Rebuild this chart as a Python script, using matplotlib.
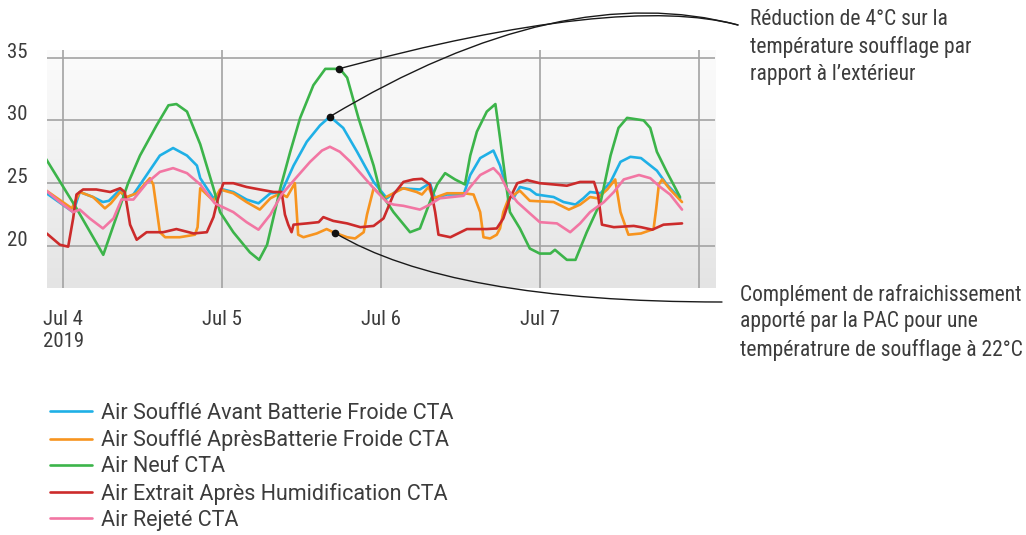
import numpy as np
import matplotlib
matplotlib.use('Agg')
from matplotlib import pyplot as plt
from matplotlib.colors import LinearSegmentedColormap
import matplotlib.dates as mdates

plt.rcParams['font.family'] = ['Roboto Condensed', 'Archivo Narrow', 'Liberation Sans Narrow', 'DejaVu Sans']

# hours counted from 2019-07-04 00:00, values in degC
START = np.datetime64('2019-07-04T00:00')

neuf_h = [-2.8, 2.0, 6.05, 9.8, 11.6, 14.1, 15.9, 17.1, 18.7, 20.7, 22.7, 23.7, 25.7, 28.2, 29.6,
          30.8, 32.8, 34.3, 35.8, 37.8, 39.6, 41.8, 42.9, 44.6, 46.9, 47.9, 49.9, 52.4, 53.9, 55.4,
          56.5, 57.7, 59.2, 60.7, 61.5, 62.5, 64.0, 65.3, 66.0, 67.0, 67.5, 69.0, 70.5, 72.0, 73.6,
          74.3, 76.1, 77.4, 79.1, 81.2, 82.7, 83.9, 85.2, 87.7, 88.7, 89.7, 91.2, 93.2]
neuf_v = [27.1, 23.0, 19.3, 25.0, 27.2, 29.6, 31.2, 31.3, 30.7, 28.1, 24.6, 22.7, 21.1, 19.5, 18.9,
          20.1, 24.6, 27.5, 30.2, 32.8, 34.1, 34.1, 33.4, 30.2, 26.4, 24.3, 22.7, 21.1, 21.4, 23.5,
          24.9, 25.8, 25.3, 24.9, 27.2, 29.1, 30.7, 31.3, 28.6, 24.6, 22.7, 21.4, 19.8, 19.4, 19.4,
          19.7, 18.9, 18.9, 21.1, 23.5, 27.2, 29.4, 30.2, 30.0, 29.4, 27.5, 25.9, 23.9]

avant_h = [-2.8, 1.5, 2.5, 4.5, 6.0, 6.9, 8.6, 9.3, 10.6, 12.6, 14.6, 16.6, 18.7, 20.2, 20.7, 22.7,
           24.2, 25.7, 27.7, 29.5, 31.3, 33.0, 34.8, 36.8, 38.8, 40.3, 42.3, 44.4, 46.9, 48.9, 50.9,
           53.9, 55.4, 56.2, 58.0, 60.5, 61.5, 63.0, 65.0, 66.0, 67.0, 68.0, 69.0, 70.5, 71.5, 74.1,
           75.6, 77.4, 78.6, 79.6, 81.2, 82.7, 84.2, 85.7, 87.3, 89.7, 91.2, 93.2]
avant_v = [24.3, 22.7, 24.3, 23.9, 23.5, 23.6, 24.5, 23.8, 24.1, 25.65, 27.2, 27.8, 27.2, 26.4, 25.4, 23.8,
           24.5, 24.3, 23.7, 23.4, 24.2, 24.3, 26.4, 28.3, 29.6, 30.3, 29.4, 27.5, 25.1, 23.8, 24.6,
           24.5, 25.0, 23.8, 24.1, 24.1, 25.65, 27.0, 27.6, 26.4, 24.6, 23.8, 24.7, 24.5, 24.1, 23.9,
           23.5, 23.3, 23.8, 24.3, 24.2, 25.1, 26.7, 27.1, 27.0, 26.0, 24.9, 23.8]

apres_h = [-2.8, 1.3, 2.5, 4.5, 6.3, 7.2, 8.6, 9.6, 11.1, 13.1, 13.6, 14.6, 15.4, 17.6, 19.9, 20.3,
           20.7, 22.7, 23.7, 25.7, 27.7, 29.7, 31.3, 32.8, 33.8, 35.0, 35.5, 36.3, 38.3, 39.8, 40.8,
           42.9, 44.1, 45.4, 45.9, 46.9, 48.4, 49.9, 51.4, 53.4, 54.2, 55.2, 55.9, 58.0, 60.5, 62.0,
           63.0, 63.5, 64.5, 65.5, 66.0, 66.5, 67.3, 69.0, 70.5, 74.1, 76.4, 78.1, 79.6, 80.7, 82.2,
           83.4, 84.2, 85.4, 87.3, 89.2, 89.6, 90.0, 90.5, 91.7, 93.5]
apres_v = [24.5, 23.0, 24.3, 23.9, 23.0, 23.4, 24.3, 23.9, 24.2, 25.4, 24.9, 21.1, 20.7, 20.7, 20.9, 21.5,
           24.6, 23.6, 24.5, 24.2, 23.5, 22.9, 23.8, 24.2, 23.9, 25.0, 20.9, 20.7, 21.0, 21.35, 21.1,
           20.7, 20.6, 21.1, 22.5, 24.6, 23.8, 24.2, 24.6, 24.3, 24.1, 24.7, 23.8, 24.2, 24.2, 24.1,
           22.7, 20.7, 20.6, 20.9, 21.4, 22.7, 23.8, 24.4, 23.6, 23.5, 22.9, 23.3, 23.9, 23.8, 24.5,
           25.3, 22.7, 20.9, 21.0, 21.35, 23.0, 24.9, 25.3, 24.5, 23.5]

extrait_h = [-2.5, -0.5, 0.75, 1.5, 2.0, 3.0, 5.0, 7.1, 8.6, 9.3, 10.1, 11.1, 12.6, 15.1, 17.1, 19.7,
             21.7, 22.7, 23.4, 24.2, 25.7, 27.7, 29.7, 31.8, 33.0, 33.5, 34.0, 34.5, 34.8, 36.8, 38.6,
             39.3, 40.8, 42.9, 44.9, 46.9, 48.4, 49.9, 51.4, 52.9, 54.2, 55.4, 56.2, 56.7, 58.5, 61.0,
             64.0, 65.5, 66.5, 67.5, 68.6, 70.1, 72.0, 74.1, 76.1, 78.1, 80.2, 80.8, 81.4, 83.2, 86.2,
             87.3, 89.0, 90.7, 93.5]
extrait_v = [21.0, 20.1, 19.95, 22.2, 24.1, 24.5, 24.5, 24.3, 24.6, 24.3, 21.7, 20.5, 21.1, 21.1, 21.35, 21.0,
             21.1, 22.3, 23.8, 25.0, 25.0, 24.7, 24.5, 24.3, 24.3, 22.5, 21.7, 21.1, 21.7, 21.8, 21.9,
             22.3, 22.0, 21.8, 21.5, 21.6, 22.2, 24.1, 25.1, 25.3, 25.35, 24.9, 22.7, 20.9, 20.7, 21.35,
             21.35, 21.4, 22.2, 23.8, 25.0, 25.25, 25.0, 24.9, 24.8, 25.1, 25.1, 24.1, 21.7, 21.5, 21.6,
             21.5, 21.3, 21.7, 21.8]

rejete_h = [-2.8, -0.5, 1.5, 2.5, 4.0, 6.0, 7.6, 8.8, 10.6, 12.6, 14.6, 16.6, 18.7, 20.7, 22.9, 25.7,
            27.7, 29.5, 31.3, 33.0, 35.3, 37.3, 39.1, 40.3, 41.8, 43.4, 44.9, 46.9, 48.9, 49.9, 51.4,
            53.9, 55.4, 56.9, 60.5, 61.5, 63.0, 65.0, 66.0, 67.0, 68.6, 70.5, 72.0, 74.6, 76.6, 78.1,
            79.6, 81.7, 83.2, 84.7, 87.0, 88.7, 90.2, 91.7, 93.5]
rejete_v = [24.5, 23.5, 22.7, 22.9, 22.2, 21.4, 22.2, 23.7, 23.7, 25.0, 25.9, 26.2, 25.8, 24.9, 23.4, 22.7,
            21.9, 21.3, 22.5, 24.1, 25.5, 26.7, 27.6, 27.9, 27.5, 26.7, 25.8, 24.6, 23.5, 23.3, 23.2,
            22.9, 23.3, 23.8, 24.0, 24.7, 25.65, 26.2, 25.65, 24.6, 23.5, 22.6, 21.9, 21.8, 21.1, 21.8,
            22.7, 23.5, 24.3, 25.3, 25.65, 25.4, 24.7, 24.1, 22.9]

labels = ['Air Soufflé Avant Batterie Froide CTA', 'Air Soufflé AprèsBatterie Froide CTA',
          'Air Neuf CTA', 'Air Extrait Après Humidification CTA', 'Air Rejeté CTA']
colors = ['#1fb0e6', '#f7941f', '#3cb44a', '#cc2b2b', '#f276a3']
series = [(avant_h, avant_v), (apres_h, apres_v), (neuf_h, neuf_v),
          (extrait_h, extrait_v), (rejete_h, rejete_v)]

day_ticks = ['Jul 4\n2019', 'Jul 5', 'Jul 6', 'Jul 7', '']
y_ticks = [20, 25, 30, 35]

# annotation targets (hour of the point on each line)
note_top = 'Réduction de 4°C sur la\ntempérature soufflage par\nrapport à l’extérieur'
note_bottom = 'Complément de rafraichissement\napporté par la PAC pour une\ntempératrure de soufflage à 22°C'
mark_neuf_h = 41.6
mark_avant_h = 40.3
mark_apres_h = 41.0


def to_time(hours):
    return START + (np.asarray(hours) * 60).round().astype('timedelta64[m]')


fig = plt.figure(figsize=(10.26, 5.35), dpi=100)
ax = fig.add_axes([0.0455, 0.4617, 0.6515, 0.4448])

# soft grey gradient behind the plot
grad = LinearSegmentedColormap.from_list('bg', ['#fcfcfc', '#e4e4e4'])
ax.imshow(np.linspace(0, 1, 256).reshape(-1, 1), cmap=grad, aspect='auto',
          extent=[0, 1, 0, 1], transform=ax.transAxes, zorder=0)

for (h, v), lab, col in zip(series, labels, colors):
    ax.plot(to_time(h), v, color=col, lw=1.9, label=lab, zorder=3,
            solid_joinstyle='round', solid_capstyle='round')

ax.set_xlim(to_time(-2.5), to_time(98.5))
ax.set_ylim(16.66, 35.6)
ax.set_xticks(to_time(np.arange(5) * 24), day_ticks)
ax.set_yticks(y_ticks)
ax.grid(True, color='#a3a3a3', lw=1.2, zorder=1)
ax.set_axisbelow(True)
for s in ax.spines.values():
    s.set_visible(False)
ax.tick_params(axis='both', length=0, labelsize=15, colors='#3c3c3c')
ax.tick_params(axis='y', pad=14)
ax.tick_params(axis='x', pad=16)
for t in ax.get_yticklabels():
    t.set_verticalalignment('baseline')

# annotation dots + curved leaders
pts = [(mark_neuf_h, neuf_h, neuf_v, 15), (mark_avant_h, avant_h, avant_v, 31)]
for mh, h, v, ang in pts:
    yv = np.interp(mh, h, v)
    ax.plot(to_time([mh]), [yv], 'o', color='#111111', ms=4.5, zorder=5)
    ax.annotate('', xy=(mdates.date2num(to_time(mh)), yv), xycoords='data',
                xytext=(0.7193, 0.9533), textcoords='figure fraction', annotation_clip=False,
                arrowprops=dict(arrowstyle='-', color='#1a1a1a', lw=1.0, shrinkA=0, shrinkB=0,
                                connectionstyle='angle3,angleA=-15,angleB=%g' % ang))
yv = np.interp(mark_apres_h, apres_h, apres_v)
ax.plot(to_time([mark_apres_h]), [yv], 'o', color='#111111', ms=4.5, zorder=5)
ax.annotate('', xy=(mdates.date2num(to_time(mark_apres_h)), yv), xycoords='data',
            xytext=(0.7037, 0.4355), textcoords='figure fraction', annotation_clip=False,
            arrowprops=dict(arrowstyle='-', color='#1a1a1a', lw=1.0, shrinkA=0, shrinkB=0,
                            connectionstyle='angle3,angleA=0,angleB=-31'))

fig.text(0.731, 0.983, note_top, fontsize=15.5, color='#3c3c3c', va='top', ha='left', linespacing=1.37)
fig.text(0.7212, 0.47, note_bottom, fontsize=15.5, color='#3c3c3c', va='top', ha='left', linespacing=1.37)

fig.legend(loc='upper left', bbox_to_anchor=(0.0487, 0.2467), frameon=False,
           prop={'family': ['Roboto', 'DejaVu Sans'], 'size': 15.5},
           handlelength=1.95, handletextpad=0.4, labelspacing=0.24, borderpad=0, borderaxespad=0,
           labelcolor='#3c3c3c')

fig.savefig('out.png', dpi=100)
